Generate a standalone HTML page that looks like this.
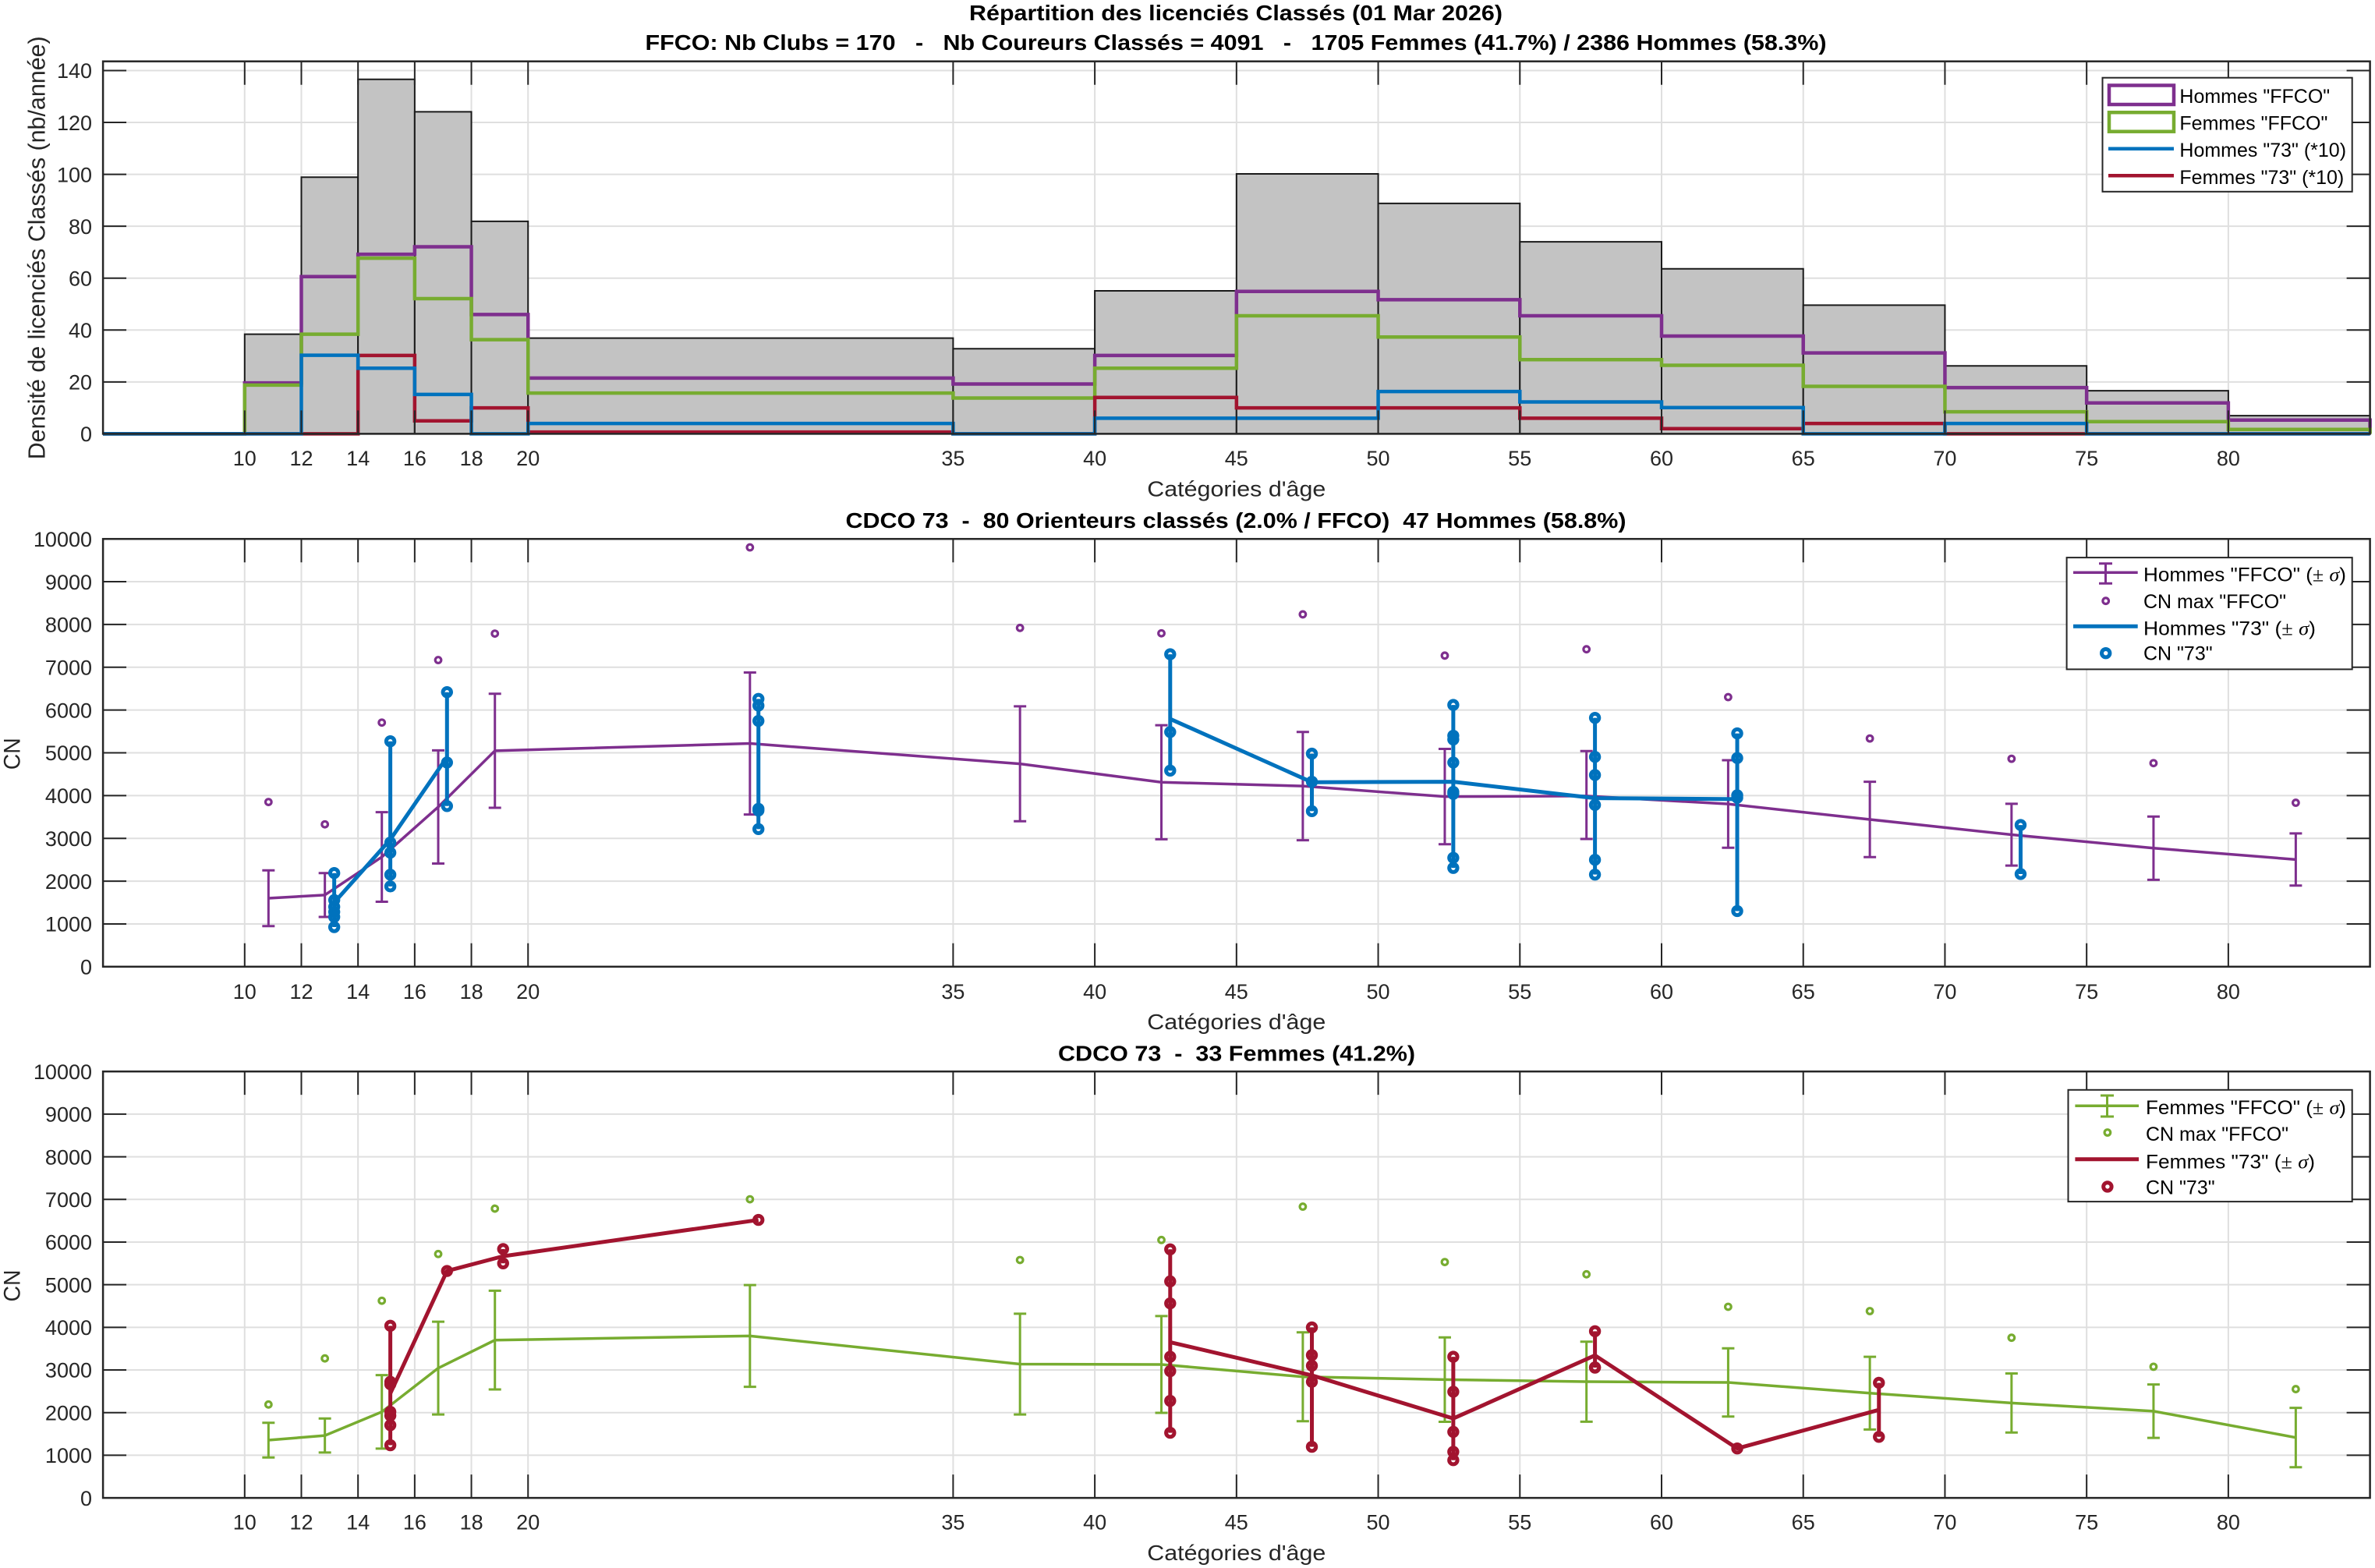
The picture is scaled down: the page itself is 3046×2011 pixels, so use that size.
<!DOCTYPE html>
<html><head><meta charset="utf-8"><style>
html,body{margin:0;padding:0;background:#fff;}
svg{display:block;}
text{font-family:"Liberation Sans",Arial,sans-serif;}
.tk{font-size:27px;fill:#262626;}
.ns{vector-effect:non-scaling-stroke;fill:none;}
</style></head><body>
<svg xmlns="http://www.w3.org/2000/svg" width="3046" height="2011" viewBox="0 0 3046 2011">
<defs>
<g id="bM" transform="scale(0.027515 -18.2282)"><circle r="5.2" fill="none" stroke="#0072BD" stroke-width="5"/></g>
<g id="pM" transform="scale(0.027515 -18.2282)"><circle r="3.8" fill="none" stroke="#7E2F8E" stroke-width="3.2"/></g>
<g id="rB" transform="scale(0.027515 -18.2849)"><circle r="5.2" fill="none" stroke="#A2142F" stroke-width="5"/></g>
<g id="gB" transform="scale(0.027515 -18.2849)"><circle r="3.8" fill="none" stroke="#77AC30" stroke-width="3.2"/></g>
</defs>
<rect width="3046" height="2011" fill="#fff"/>

<!-- ================= TOP CHART ================= -->
<text x="1585" y="26" text-anchor="middle" font-size="28" font-weight="bold" textLength="684" lengthAdjust="spacingAndGlyphs" fill="#000">Répartition des licenciés Classés (01 Mar 2026)</text>
<text x="1585" y="64" text-anchor="middle" font-size="28" font-weight="bold" textLength="1515" lengthAdjust="spacingAndGlyphs" fill="#000" style="white-space:pre">FFCO: Nb Clubs = 170   -   Nb Coureurs Classés = 4091   -   1705 Femmes (41.7%) / 2386 Hommes (58.3%)</text>
<rect x="132.1" y="78.7" width="2907.5" height="477.7" fill="#fff"/>
<g transform="matrix(36.344 0 0 -3.3279 -49.64 556.4)">
<path class="ns" stroke="#dfdfdf" stroke-width="2" d="M10 0V143.54M12 0V143.54M14 0V143.54M16 0V143.54M18 0V143.54M20 0V143.54M35 0V143.54M40 0V143.54M45 0V143.54M50 0V143.54M55 0V143.54M60 0V143.54M65 0V143.54M70 0V143.54M75 0V143.54M80 0V143.54M5 20H85M5 40H85M5 60H85M5 80H85M5 100H85M5 120H85M5 140H85"/>
<g fill="#c3c3c3" stroke="#1a1a1a" stroke-width="2" style="vector-effect:non-scaling-stroke">
<rect x="10" y="0" width="2" height="38.4" style="vector-effect:non-scaling-stroke"/>
<rect x="12" y="0" width="2" height="98.9" style="vector-effect:non-scaling-stroke"/>
<rect x="14" y="0" width="2" height="136.6" style="vector-effect:non-scaling-stroke"/>
<rect x="16" y="0" width="2" height="124.1" style="vector-effect:non-scaling-stroke"/>
<rect x="18" y="0" width="2" height="81.9" style="vector-effect:non-scaling-stroke"/>
<rect x="20" y="0" width="15" height="36.9" style="vector-effect:non-scaling-stroke"/>
<rect x="35" y="0" width="5" height="32.8" style="vector-effect:non-scaling-stroke"/>
<rect x="40" y="0" width="5" height="55.1" style="vector-effect:non-scaling-stroke"/>
<rect x="45" y="0" width="5" height="100.2" style="vector-effect:non-scaling-stroke"/>
<rect x="50" y="0" width="5" height="88.8" style="vector-effect:non-scaling-stroke"/>
<rect x="55" y="0" width="5" height="74.0" style="vector-effect:non-scaling-stroke"/>
<rect x="60" y="0" width="5" height="63.6" style="vector-effect:non-scaling-stroke"/>
<rect x="65" y="0" width="5" height="49.6" style="vector-effect:non-scaling-stroke"/>
<rect x="70" y="0" width="5" height="26.2" style="vector-effect:non-scaling-stroke"/>
<rect x="75" y="0" width="5" height="16.6" style="vector-effect:non-scaling-stroke"/>
<rect x="80" y="0" width="5" height="7.0" style="vector-effect:non-scaling-stroke"/>
</g>
<path class="ns" stroke="#7E2F8E" stroke-width="4.5" d="M5 0H10V19.6H12V60.6H14V69.2H16V72.1H18V46.0H20V21.5H35V19.2H40V30.2H45V54.9H50V51.7H55V45.5H60V37.7H65V31.2H70V17.8H75V11.9H80V5.3H85V0"/>
<path class="ns" stroke="#77AC30" stroke-width="4.5" d="M5 0H10V18.8H12V38.4H14V67.7H16V52.1H18V36.3H20V15.7H35V13.8H40V25.3H45V45.5H50V37.3H55V28.6H60V26.4H65V18.3H70V8.5H75V4.7H80V1.7H85V0"/>
<path class="ns" stroke="#A2142F" stroke-width="4.5" d="M5 0H14V30.2H16V5H18V10H20V0.67H35V0H40V14H45V10H50V10H55V6H60V2H65V4H70V0H85"/>
<path class="ns" stroke="#0072BD" stroke-width="4.5" d="M5 0H12V30.3H14V25.3H16V15.2H18V0H20V4H35V0H40V6H45V6H50V16.3H55V12.3H60V10.1H65V0H70V4H75V0H85"/>
<path class="ns" stroke="#262626" stroke-width="2" d="M10 0V9.01M12 0V9.01M14 0V9.01M16 0V9.01M18 0V9.01M20 0V9.01M35 0V9.01M40 0V9.01M45 0V9.01M50 0V9.01M55 0V9.01M60 0V9.01M65 0V9.01M70 0V9.01M75 0V9.01M80 0V9.01M10 143.54V134.53M12 143.54V134.53M14 143.54V134.53M16 143.54V134.53M18 143.54V134.53M20 143.54V134.53M35 143.54V134.53M40 143.54V134.53M45 143.54V134.53M50 143.54V134.53M55 143.54V134.53M60 143.54V134.53M65 143.54V134.53M70 143.54V134.53M75 143.54V134.53M80 143.54V134.53M5 20H5.825M5 40H5.825M5 60H5.825M5 80H5.825M5 100H5.825M5 120H5.825M5 140H5.825M85 20H84.175M85 40H84.175M85 60H84.175M85 80H84.175M85 100H84.175M85 120H84.175M85 140H84.175"/>
</g>
<rect x="132.1" y="78.7" width="2907.5" height="477.7" fill="none" stroke="#262626" stroke-width="2.5"/>
<g class="tk" text-anchor="end">
<text x="118" y="566">0</text><text x="118" y="499.5">20</text><text x="118" y="433">40</text><text x="118" y="366.4">60</text><text x="118" y="299.9">80</text><text x="118" y="233.3">100</text><text x="118" y="166.8">120</text><text x="118" y="100.2">140</text>
</g>
<g class="tk" text-anchor="middle">
<text x="313.8" y="597">10</text><text x="386.5" y="597">12</text><text x="459.2" y="597">14</text><text x="531.9" y="597">16</text><text x="604.6" y="597">18</text><text x="677.2" y="597">20</text><text x="1222.4" y="597">35</text><text x="1404.1" y="597">40</text><text x="1585.8" y="597">45</text><text x="1767.5" y="597">50</text><text x="1949.2" y="597">55</text><text x="2131" y="597">60</text><text x="2312.7" y="597">65</text><text x="2494.4" y="597">70</text><text x="2676.1" y="597">75</text><text x="2857.9" y="597">80</text>
</g>
<text x="1585.8" y="636.4" text-anchor="middle" font-size="28" fill="#262626" textLength="229" lengthAdjust="spacingAndGlyphs">Catégories d'âge</text>
<text transform="translate(57.4 317.8) rotate(-90)" text-anchor="middle" font-size="31" fill="#262626" textLength="543" lengthAdjust="spacingAndGlyphs">Densité de licenciés Classés (nb/année)</text>
<!-- top legend -->
<rect x="2696.5" y="99.7" width="320.2" height="146.1" fill="#fff" stroke="#262626" stroke-width="2"/>
<rect x="2705" y="109.5" width="83" height="24.5" fill="#fff" stroke="#7E2F8E" stroke-width="4.5"/>
<rect x="2705" y="144.2" width="83" height="24.5" fill="#fff" stroke="#77AC30" stroke-width="4.5"/>
<path d="M2704 190.7H2788" stroke="#0072BD" stroke-width="4.5"/>
<path d="M2704 225.2H2788" stroke="#A2142F" stroke-width="4.5"/>
<g font-size="25" fill="#000">
<text x="2795.4" y="131.8">Hommes "FFCO"</text>
<text x="2795.4" y="166.6">Femmes "FFCO"</text>
<text x="2795.4" y="201.2">Hommes "73" (*10)</text>
<text x="2795.4" y="236">Femmes "73" (*10)</text>
</g>

<!-- ================= MIDDLE CHART ================= -->
<text x="1585" y="677" text-anchor="middle" font-size="28" font-weight="bold" textLength="1001" lengthAdjust="spacingAndGlyphs" fill="#000" style="white-space:pre">CDCO 73  -  80 Orienteurs classés (2.0% / FFCO)  47 Hommes (58.8%)</text>
<g transform="matrix(36.344 0 0 -0.05486 -49.64 1239.8)">
<path class="ns" stroke="#dfdfdf" stroke-width="2" d="M10 0V10000M12 0V10000M14 0V10000M16 0V10000M18 0V10000M20 0V10000M35 0V10000M40 0V10000M45 0V10000M50 0V10000M55 0V10000M60 0V10000M65 0V10000M70 0V10000M75 0V10000M80 0V10000M5 1000H85M5 2000H85M5 3000H85M5 4000H85M5 5000H85M5 6000H85M5 7000H85M5 8000H85M5 9000H85"/>
<path class="ns" stroke="#262626" stroke-width="2" d="M10 0V547M12 0V547M14 0V547M16 0V547M18 0V547M20 0V547M35 0V547M40 0V547M45 0V547M50 0V547M55 0V547M60 0V547M65 0V547M70 0V547M75 0V547M80 0V547M10 10000V9453M12 10000V9453M14 10000V9453M16 10000V9453M18 10000V9453M20 10000V9453M35 10000V9453M40 10000V9453M45 10000V9453M50 10000V9453M55 10000V9453M60 10000V9453M65 10000V9453M70 10000V9453M75 10000V9453M80 10000V9453M5 1000H5.825M5 2000H5.825M5 3000H5.825M5 4000H5.825M5 5000H5.825M5 6000H5.825M5 7000H5.825M5 8000H5.825M5 9000H5.825M85 1000H84.175M85 2000H84.175M85 3000H84.175M85 4000H84.175M85 5000H84.175M85 6000H84.175M85 7000H84.175M85 8000H84.175M85 9000H84.175"/>
<path class="ns" stroke="#7E2F8E" stroke-width="3.5" stroke-linejoin="round" d="M10.84 1600L12.83 1676L14.84 2565L16.83 3734L18.83 5047L27.83 5218L37.36 4743L42.35 4312L47.34 4222L52.35 3976L57.35 3990L62.35 3803L67.35 3442L72.35 3086L77.36 2771L82.38 2506"/>
<path class="ns" stroke="#7E2F8E" stroke-width="3" d="M10.84 948V2253M10.62 948H11.06M10.62 2253H11.06M12.83 1163V2189M12.61 1163H13.05M12.61 2189H13.05M14.84 1518V3613M14.62 1518H15.06M14.62 3613H15.06M16.83 2411V5058M16.61 2411H17.05M16.61 5058H17.05M18.83 3715V6380M18.61 3715H19.05M18.61 6380H19.05M27.83 3558V6878M27.61 3558H28.05M27.61 6878H28.05M37.36 3400V6086M37.14 3400H37.58M37.14 6086H37.58M42.35 2980V5644M42.13 2980H42.57M42.13 5644H42.57M47.34 2957V5487M47.12 2957H47.56M47.12 5487H47.56M52.35 2862V5091M52.13 2862H52.57M52.13 5091H52.57M57.35 2986V5040M57.13 2986H57.57M57.13 5040H57.57M62.35 2780V4827M62.13 2780H62.57M62.13 4827H62.57M67.35 2561V4324M67.13 2561H67.57M67.13 4324H67.57M72.35 2364V3809M72.13 2364H72.57M72.13 3809H72.57M77.36 2032V3510M77.14 2032H77.58M77.14 3510H77.58M82.38 1897V3116M82.16 1897H82.6M82.16 3116H82.6"/>
<use href="#pM" x="10.84" y="3850"/><use href="#pM" x="12.83" y="3328"/><use href="#pM" x="14.84" y="5707"/><use href="#pM" x="16.83" y="7169"/><use href="#pM" x="18.83" y="7787"/><use href="#pM" x="27.83" y="9803"/><use href="#pM" x="37.36" y="7920"/><use href="#pM" x="42.35" y="7794"/><use href="#pM" x="47.34" y="8237"/><use href="#pM" x="52.35" y="7273"/><use href="#pM" x="57.35" y="7421"/><use href="#pM" x="62.35" y="6303"/><use href="#pM" x="67.35" y="5335"/><use href="#pM" x="72.35" y="4861"/><use href="#pM" x="77.36" y="4759"/><use href="#pM" x="82.38" y="3833"/>
<path class="ns" stroke="#0072BD" stroke-width="5" stroke-linejoin="round" d="M13.16 1500L15.14 2973L17.14 4900M42.66 5792L47.66 4313L52.65 4323L57.65 3940L62.67 3918"/>
<path class="ns" stroke="#0072BD" stroke-width="5" d="M13.16 926V2189M15.14 1877V5270M17.14 3755V6418M28.13 3217V6261M42.66 4584V7304M47.66 3636V4980M52.65 2308V6119M57.65 2153V5817M62.67 1300V5454M72.67 2166V3312"/>
<use href="#bM" x="13.16" y="2189"/><use href="#bM" x="13.16" y="1557"/><use href="#bM" x="13.16" y="1399"/><use href="#bM" x="13.16" y="1281"/><use href="#bM" x="13.16" y="1163"/><use href="#bM" x="13.16" y="926"/>
<use href="#bM" x="15.14" y="5270"/><use href="#bM" x="15.14" y="2902"/><use href="#bM" x="15.14" y="2665"/><use href="#bM" x="15.14" y="2150"/><use href="#bM" x="15.14" y="1877"/>
<use href="#bM" x="17.14" y="6418"/><use href="#bM" x="17.14" y="4774"/><use href="#bM" x="17.14" y="3755"/>
<use href="#bM" x="28.13" y="6261"/><use href="#bM" x="28.13" y="6103"/><use href="#bM" x="28.13" y="5747"/><use href="#bM" x="28.13" y="3691"/><use href="#bM" x="28.13" y="3650"/><use href="#bM" x="28.13" y="3217"/>
<use href="#bM" x="42.66" y="7304"/><use href="#bM" x="42.66" y="5487"/><use href="#bM" x="42.66" y="4584"/>
<use href="#bM" x="47.66" y="4980"/><use href="#bM" x="47.66" y="4324"/><use href="#bM" x="47.66" y="3636"/>
<use href="#bM" x="52.65" y="6119"/><use href="#bM" x="52.65" y="5400"/><use href="#bM" x="52.65" y="5312"/><use href="#bM" x="52.65" y="4774"/><use href="#bM" x="52.65" y="4087"/><use href="#bM" x="52.65" y="4040"/><use href="#bM" x="52.65" y="2545"/><use href="#bM" x="52.65" y="2308"/>
<use href="#bM" x="57.65" y="5817"/><use href="#bM" x="57.65" y="4905"/><use href="#bM" x="57.65" y="4481"/><use href="#bM" x="57.65" y="3782"/><use href="#bM" x="57.65" y="2499"/><use href="#bM" x="57.65" y="2153"/>
<use href="#bM" x="62.67" y="5454"/><use href="#bM" x="62.67" y="4878"/><use href="#bM" x="62.67" y="4008"/><use href="#bM" x="62.67" y="3950"/><use href="#bM" x="62.67" y="1300"/>
<use href="#bM" x="72.67" y="3312"/><use href="#bM" x="72.67" y="2166"/>
</g>
<rect x="132.1" y="691.2" width="2907.5" height="548.6" fill="none" stroke="#262626" stroke-width="2.5"/>
<g class="tk" text-anchor="end">
<text x="118" y="1249.5">0</text><text x="118" y="1194.6">1000</text><text x="118" y="1139.8">2000</text><text x="118" y="1084.9">3000</text><text x="118" y="1030.1">4000</text><text x="118" y="975.2">5000</text><text x="118" y="920.3">6000</text><text x="118" y="865.5">7000</text><text x="118" y="810.6">8000</text><text x="118" y="755.8">9000</text><text x="118" y="700.9">10000</text>
</g>
<g class="tk" text-anchor="middle">
<text x="313.8" y="1281">10</text><text x="386.5" y="1281">12</text><text x="459.2" y="1281">14</text><text x="531.9" y="1281">16</text><text x="604.6" y="1281">18</text><text x="677.2" y="1281">20</text><text x="1222.4" y="1281">35</text><text x="1404.1" y="1281">40</text><text x="1585.8" y="1281">45</text><text x="1767.5" y="1281">50</text><text x="1949.2" y="1281">55</text><text x="2131" y="1281">60</text><text x="2312.7" y="1281">65</text><text x="2494.4" y="1281">70</text><text x="2676.1" y="1281">75</text><text x="2857.9" y="1281">80</text>
</g>
<text x="1585.8" y="1320" text-anchor="middle" font-size="28" fill="#262626" textLength="229" lengthAdjust="spacingAndGlyphs">Catégories d'âge</text>
<text transform="translate(25.5 966.8) rotate(-90)" text-anchor="middle" font-size="30" fill="#262626" textLength="41" lengthAdjust="spacingAndGlyphs">CN</text>
<!-- middle legend -->
<rect x="2650.6" y="715.1" width="366.1" height="143.3" fill="#fff" stroke="#262626" stroke-width="2"/>
<path d="M2659 734.3H2741.7" stroke="#7E2F8E" stroke-width="3.5"/>
<path d="M2700.5 722.7V748.3M2692 722.7H2709M2692 748.3H2709" stroke="#7E2F8E" stroke-width="3" fill="none"/>
<circle cx="2700.7" cy="770.7" r="3.8" fill="none" stroke="#7E2F8E" stroke-width="3.2"/>
<path d="M2659 803.3H2741.7" stroke="#0072BD" stroke-width="5"/>
<circle cx="2700.7" cy="837.7" r="5.2" fill="none" stroke="#0072BD" stroke-width="5"/>
<g font-size="25" fill="#000">
<text x="2749" y="745.7" textLength="260" lengthAdjust="spacingAndGlyphs">Hommes "FFCO" (<tspan font-family="Liberation Serif">±</tspan> <tspan font-family="Liberation Serif" font-style="italic">σ</tspan>)</text>
<text x="2749" y="780">CN max "FFCO"</text>
<text x="2749" y="814.3" textLength="221" lengthAdjust="spacingAndGlyphs">Hommes "73" (<tspan font-family="Liberation Serif">±</tspan> <tspan font-family="Liberation Serif" font-style="italic">σ</tspan>)</text>
<text x="2749" y="846.7">CN "73"</text>
</g>

<!-- ================= BOTTOM CHART ================= -->
<text x="1586" y="1360.5" text-anchor="middle" font-size="28" font-weight="bold" textLength="458" lengthAdjust="spacingAndGlyphs" fill="#000" style="white-space:pre">CDCO 73  -  33 Femmes (41.2%)</text>
<g transform="matrix(36.344 0 0 -0.05469 -49.64 1921.1)">
<path class="ns" stroke="#dfdfdf" stroke-width="2" d="M10 0V10000M12 0V10000M14 0V10000M16 0V10000M18 0V10000M20 0V10000M35 0V10000M40 0V10000M45 0V10000M50 0V10000M55 0V10000M60 0V10000M65 0V10000M70 0V10000M75 0V10000M80 0V10000M5 1000H85M5 2000H85M5 3000H85M5 4000H85M5 5000H85M5 6000H85M5 7000H85M5 8000H85M5 9000H85"/>
<path class="ns" stroke="#262626" stroke-width="2" d="M10 0V548M12 0V548M14 0V548M16 0V548M18 0V548M20 0V548M35 0V548M40 0V548M45 0V548M50 0V548M55 0V548M60 0V548M65 0V548M70 0V548M75 0V548M80 0V548M10 10000V9452M12 10000V9452M14 10000V9452M16 10000V9452M18 10000V9452M20 10000V9452M35 10000V9452M40 10000V9452M45 10000V9452M50 10000V9452M55 10000V9452M60 10000V9452M65 10000V9452M70 10000V9452M75 10000V9452M80 10000V9452M5 1000H5.825M5 2000H5.825M5 3000H5.825M5 4000H5.825M5 5000H5.825M5 6000H5.825M5 7000H5.825M5 8000H5.825M5 9000H5.825M85 1000H84.175M85 2000H84.175M85 3000H84.175M85 4000H84.175M85 5000H84.175M85 6000H84.175M85 7000H84.175M85 8000H84.175M85 9000H84.175"/>
<path class="ns" stroke="#77AC30" stroke-width="3.5" stroke-linejoin="round" d="M10.84 1354L12.83 1463L14.84 2018L16.83 3043L18.83 3700L27.83 3799L37.36 3137L42.35 3129L47.34 2840L52.35 2774L57.35 2726L62.35 2708L67.35 2457L72.35 2226L77.36 2034L82.38 1416"/>
<path class="ns" stroke="#77AC30" stroke-width="3" d="M10.84 947V1761M10.62 947H11.06M10.62 1761H11.06M12.83 1064V1863M12.61 1064H13.05M12.61 1863H13.05M14.84 1157V2880M14.62 1157H15.06M14.62 2880H15.06M16.83 1956V4131M16.61 1956H17.05M16.61 4131H17.05M18.83 2543V4858M18.61 2543H19.05M18.61 4858H19.05M27.83 2606V4992M27.61 2606H28.05M27.61 4992H28.05M37.36 1956V4319M37.14 1956H37.58M37.14 4319H37.58M42.35 1995V4264M42.13 1995H42.57M42.13 4264H42.57M47.34 1799V3882M47.12 1799H47.56M47.12 3882H47.56M52.35 1785V3763M52.13 1785H52.57M52.13 3763H52.57M57.35 1788V3664M57.13 1788H57.57M57.13 3664H57.57M62.35 1909V3507M62.13 1909H62.57M62.13 3507H62.57M67.35 1604V3310M67.13 1604H67.57M67.13 3310H67.57M72.35 1534V2918M72.13 1534H72.57M72.13 2918H72.57M77.36 1408V2660M77.14 1408H77.58M77.14 2660H77.58M82.38 720V2112M82.16 720H82.6M82.16 2112H82.6"/>
<use href="#gB" x="10.84" y="2190"/><use href="#gB" x="12.83" y="3271"/><use href="#gB" x="14.84" y="4624"/><use href="#gB" x="16.83" y="5720"/><use href="#gB" x="18.83" y="6784"/><use href="#gB" x="27.83" y="7003"/><use href="#gB" x="37.36" y="5579"/><use href="#gB" x="42.35" y="6049"/><use href="#gB" x="47.34" y="6831"/><use href="#gB" x="52.35" y="5531"/><use href="#gB" x="57.35" y="5244"/><use href="#gB" x="62.35" y="4482"/><use href="#gB" x="67.35" y="4381"/><use href="#gB" x="72.35" y="3756"/><use href="#gB" x="77.36" y="3076"/><use href="#gB" x="82.38" y="2551"/>
<path class="ns" stroke="#A2142F" stroke-width="5" stroke-linejoin="round" d="M15.14 2450L17.14 5321L19.12 5668L28.13 6519M42.66 3651L47.66 2874L52.65 1863L57.65 3342L62.67 1159L67.67 2065"/>
<path class="ns" stroke="#A2142F" stroke-width="5" d="M15.14 1236V4037M19.12 5500V5836M42.66 1527V5829M47.66 1198V3999M52.65 885V3310M57.65 3055V3909M67.67 1432V2699"/>
<use href="#rB" x="15.14" y="4037"/><use href="#rB" x="15.14" y="2723"/><use href="#rB" x="15.14" y="2665"/><use href="#rB" x="15.14" y="2019"/><use href="#rB" x="15.14" y="1930"/><use href="#rB" x="15.14" y="1706"/><use href="#rB" x="15.14" y="1236"/>
<use href="#rB" x="17.14" y="5321"/>
<use href="#rB" x="19.12" y="5836"/><use href="#rB" x="19.12" y="5500"/>
<use href="#rB" x="28.13" y="6519"/>
<use href="#rB" x="42.66" y="5829"/><use href="#rB" x="42.66" y="5078"/><use href="#rB" x="42.66" y="4562"/><use href="#rB" x="42.66" y="3310"/><use href="#rB" x="42.66" y="2973"/><use href="#rB" x="42.66" y="2276"/><use href="#rB" x="42.66" y="1527"/>
<use href="#rB" x="47.66" y="3999"/><use href="#rB" x="47.66" y="3348"/><use href="#rB" x="47.66" y="3100"/><use href="#rB" x="47.66" y="2723"/><use href="#rB" x="47.66" y="1198"/>
<use href="#rB" x="52.65" y="3310"/><use href="#rB" x="52.65" y="2489"/><use href="#rB" x="52.65" y="1549"/><use href="#rB" x="52.65" y="1081"/><use href="#rB" x="52.65" y="885"/>
<use href="#rB" x="57.65" y="3909"/><use href="#rB" x="57.65" y="3062"/><use href="#rB" x="57.65" y="3055"/>
<use href="#rB" x="62.67" y="1159"/>
<use href="#rB" x="67.67" y="2699"/><use href="#rB" x="67.67" y="1432"/>
</g>
<rect x="132.1" y="1374.2" width="2907.5" height="546.9" fill="none" stroke="#262626" stroke-width="2.5"/>
<g class="tk" text-anchor="end">
<text x="118" y="1930.8">0</text><text x="118" y="1876.1">1000</text><text x="118" y="1821.4">2000</text><text x="118" y="1766.7">3000</text><text x="118" y="1712">4000</text><text x="118" y="1657.3">5000</text><text x="118" y="1602.7">6000</text><text x="118" y="1548">7000</text><text x="118" y="1493.3">8000</text><text x="118" y="1438.6">9000</text><text x="118" y="1383.9">10000</text>
</g>
<g class="tk" text-anchor="middle">
<text x="313.8" y="1961.5">10</text><text x="386.5" y="1961.5">12</text><text x="459.2" y="1961.5">14</text><text x="531.9" y="1961.5">16</text><text x="604.6" y="1961.5">18</text><text x="677.2" y="1961.5">20</text><text x="1222.4" y="1961.5">35</text><text x="1404.1" y="1961.5">40</text><text x="1585.8" y="1961.5">45</text><text x="1767.5" y="1961.5">50</text><text x="1949.2" y="1961.5">55</text><text x="2131" y="1961.5">60</text><text x="2312.7" y="1961.5">65</text><text x="2494.4" y="1961.5">70</text><text x="2676.1" y="1961.5">75</text><text x="2857.9" y="1961.5">80</text>
</g>
<text x="1585.8" y="2001" text-anchor="middle" font-size="28" fill="#262626" textLength="229" lengthAdjust="spacingAndGlyphs">Catégories d'âge</text>
<text transform="translate(25.5 1649) rotate(-90)" text-anchor="middle" font-size="30" fill="#262626" textLength="41" lengthAdjust="spacingAndGlyphs">CN</text>
<!-- bottom legend -->
<rect x="2652.5" y="1397.8" width="364.2" height="143.3" fill="#fff" stroke="#262626" stroke-width="2"/>
<path d="M2661.4 1418.3H2743" stroke="#77AC30" stroke-width="3.5"/>
<path d="M2702.5 1405V1432M2694 1405H2711M2694 1432H2711" stroke="#77AC30" stroke-width="3" fill="none"/>
<circle cx="2702.9" cy="1452.5" r="3.8" fill="none" stroke="#77AC30" stroke-width="3.2"/>
<path d="M2661.4 1486.8H2743" stroke="#A2142F" stroke-width="5"/>
<circle cx="2702.9" cy="1521.9" r="5.2" fill="none" stroke="#A2142F" stroke-width="5"/>
<g font-size="25" fill="#000">
<text x="2752" y="1429" textLength="257" lengthAdjust="spacingAndGlyphs">Femmes "FFCO" (<tspan font-family="Liberation Serif">±</tspan> <tspan font-family="Liberation Serif" font-style="italic">σ</tspan>)</text>
<text x="2752" y="1463.2">CN max "FFCO"</text>
<text x="2752" y="1498.3" textLength="217" lengthAdjust="spacingAndGlyphs">Femmes "73" (<tspan font-family="Liberation Serif">±</tspan> <tspan font-family="Liberation Serif" font-style="italic">σ</tspan>)</text>
<text x="2752" y="1531.7">CN "73"</text>
</g>
</svg>
</body></html>
